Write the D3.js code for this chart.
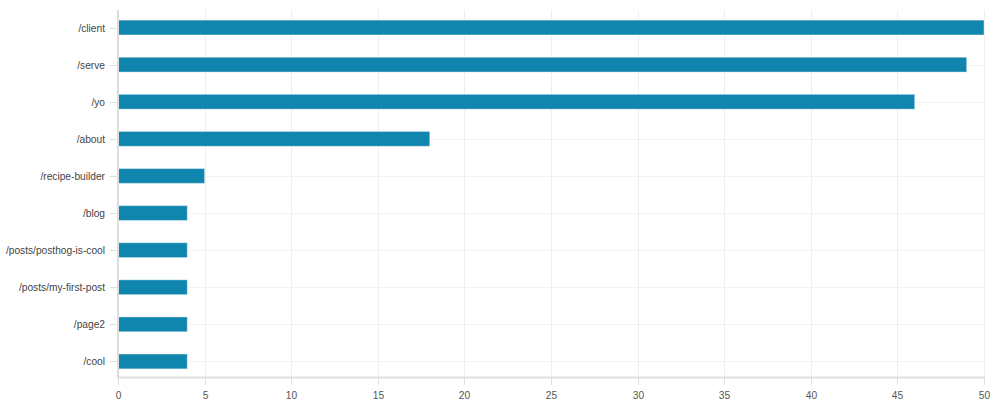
<!DOCTYPE html>
<html><head><meta charset="utf-8">
<script src="https://cdn.jsdelivr.net/npm/d3@7"></script>
<style>
html,body{margin:0;padding:0;background:#fff;}
text{font-family:"Helvetica Neue",Arial,"Liberation Sans",sans-serif;}
</style></head>
<body>
<svg id="c" width="997" height="412"></svg>
<script>
const categories = ["/client","/serve","/yo","/about","/recipe-builder","/blog","/posts/posthog-is-cool","/posts/my-first-post","/page2","/cool"];
const values = [50,49,46,18,5,4,4,4,4,4];
const xTicks = [0,5,10,15,20,25,30,35,40,45,50];

(function(){
const svg = d3.select("#c");
const mLeft = 118, mRight = 984, mTop = 9, mBottom = 380, axisY = 377.5;
const x = d3.scaleLinear().domain([0,50]).range([mLeft,mRight]);
const y = d3.scaleBand().domain(categories).range([mTop,mBottom]).paddingInner(0.6).paddingOuter(0.3);

// grid
const g = svg.append("g");
g.selectAll(".vg").data(xTicks.slice(1)).join("line")
  .attr("x1",d=>Math.round(x(d))+0.5).attr("x2",d=>Math.round(x(d))+0.5)
  .attr("y1",10).attr("y2",axisY)
  .attr("stroke","#eeeeee").attr("stroke-width",1);
g.selectAll(".hg").data(categories).join("line")
  .attr("x1",mLeft).attr("x2",mRight)
  .attr("y1",d=>Math.round(y(d)+y.bandwidth()/2)+0.5).attr("y2",d=>Math.round(y(d)+y.bandwidth()/2)+0.5)
  .attr("stroke","#f2f2f2").attr("stroke-width",1);

// bars
svg.append("g").selectAll("rect").data(categories).join("rect")
  .attr("x",x(0)).attr("y",d=>y(d))
  .attr("width",(d,i)=>x(values[i])-x(0))
  .attr("height",y.bandwidth())
  .attr("fill","#1086ae").attr("stroke","rgba(255,255,255,0.4)").attr("stroke-width",1);

// axes lines
svg.append("line").attr("x1",mLeft).attr("x2",mLeft).attr("y1",10).attr("y2",axisY+1)
  .attr("stroke","#dddddd").attr("stroke-width",2);
svg.append("line").attr("x1",mLeft).attr("x2",mRight+1).attr("y1",axisY).attr("y2",axisY)
  .attr("stroke","#dddddd").attr("stroke-width",2);

// y ticks & labels
const yt = svg.append("g").selectAll("g").data(categories).join("g")
  .attr("transform",d=>`translate(0,${Math.round(y(d)+y.bandwidth()/2)+0.5})`);
yt.append("line").attr("x1",110).attr("x2",117).attr("stroke","#dddddd");
yt.append("text").attr("x",105).attr("dy","0.35em").attr("text-anchor","end")
  .attr("font-size",10.2).attr("fill","#444").text(d=>d);

// x ticks & labels
const xt = svg.append("g").selectAll("g").data(xTicks).join("g")
  .attr("transform",d=>`translate(${Math.round(x(d))+0.5},0)`);
xt.append("line").attr("y1",axisY).attr("y2",axisY+7).attr("stroke","#dddddd");
xt.append("text").attr("y",399).attr("text-anchor","middle")
  .attr("font-size",10.2).attr("fill","#555").text(d=>d);
})();
</script>
</body></html>
